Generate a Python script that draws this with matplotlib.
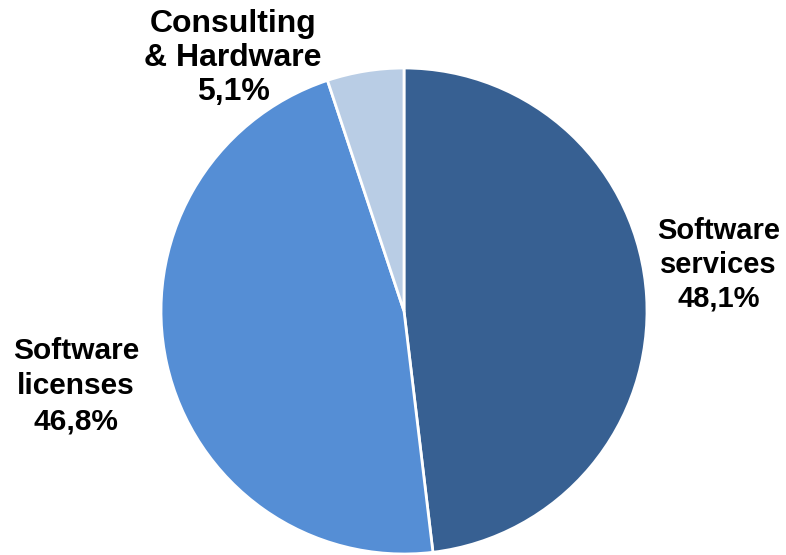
import matplotlib.pyplot as plt

labels = ["Software\nservices", "Software\nlicenses", "Consulting\n& Hardware"]
shares = [48.1, 46.8, 5.1]
share_text = ["48,1%", "46,8%", "5,1%"]
colors = ["#376092", "#558ED5", "#B9CDE5"]

plt.rcParams['font.family'] = ['Liberation Sans', 'DejaVu Sans']

fig = plt.figure(figsize=(7.86, 5.55), dpi=100)
ax = fig.add_axes([0, 0, 1, 1])

wedges, _ = ax.pie(shares, colors=colors, startangle=90, counterclock=False,
                   wedgeprops=dict(edgecolor="white", linewidth=2))

# label spots (radius = 1), sizes, spacing
label_xy = [(1.295, 0.19), (-1.35, -0.31), (-0.703, 1.04)]
label_size = [21, 21.5, 23]
label_ls = [1.27, 1.32, 1.17]
for lab, pct, (x, y), fs, ls in zip(labels, share_text, label_xy, label_size, label_ls):
    ax.text(x, y, lab + "\n" + pct, ha="center", va="center",
            fontsize=fs, fontweight="bold", linespacing=ls)

ax.set_xlim(-404 / 243, (786 - 404) / 243)
ax.set_ylim(-244 / 243, 311 / 243)
ax.set_aspect("equal")
ax.axis("off")

fig.savefig("out.png", dpi=100)
